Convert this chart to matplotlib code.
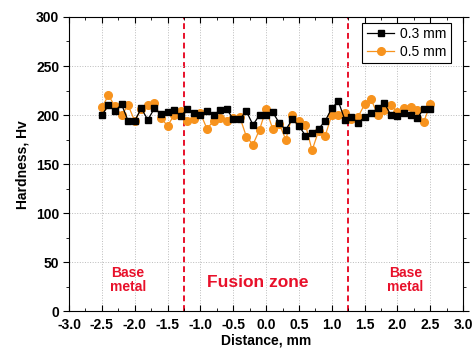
import matplotlib
matplotlib.use('Agg')
import matplotlib.pyplot as plt
import numpy as np

plt.rcParams['font.family'] = ['Liberation Sans', 'DejaVu Sans']

# distance positions (mm)
distance = [-2.5, -2.4, -2.3, -2.2, -2.1, -2.0, -1.9, -1.8, -1.7, -1.6, -1.5,
            -1.4, -1.3, -1.2, -1.1, -1.0, -0.9, -0.8, -0.7, -0.6, -0.5,
            -0.4, -0.3, -0.2, -0.1, 0.0, 0.1, 0.2, 0.3, 0.4, 0.5,
            0.6, 0.7, 0.8, 0.9, 1.0, 1.1, 1.2, 1.3, 1.4, 1.5,
            1.6, 1.7, 1.8, 1.9, 2.0, 2.1, 2.2, 2.3, 2.4, 2.5]

hv_03 = [200, 210, 204, 211, 194, 194, 207, 195, 207, 201, 203,
         205, 199, 206, 202, 200, 204, 200, 205, 206, 196,
         196, 204, 190, 200, 200, 203, 192, 185, 196, 189,
         179, 182, 186, 194, 207, 214, 195, 198, 192, 198,
         202, 207, 212, 200, 199, 202, 200, 197, 206, 206]

hv_05 = [208, 220, 209, 200, 210, 194, 206, 210, 212, 197, 189,
         200, 204, 194, 196, 202, 186, 194, 197, 194, 197,
         198, 178, 170, 185, 206, 186, 191, 175, 200, 194,
         190, 164, 184, 179, 200, 200, 202, 196, 198, 211,
         216, 200, 205, 210, 203, 207, 208, 205, 193, 211]

zone_edges = [-1.25, 1.25]

fig = plt.figure(figsize=(4.76, 3.53), dpi=100)
ax = fig.add_axes([0.145, 0.118, 0.828, 0.834])

ax.plot(distance, hv_03, color='black', marker='s', markersize=5, lw=0.9,
        label='0.3 mm', zorder=3)
ax.plot(distance, hv_05, color='#f7931e', marker='o', markersize=5.5, lw=0.9,
        label='0.5 mm', zorder=2)

for xe in zone_edges:
    ax.plot([xe, xe], [0, 300], color='#e8102a', ls=(0, (3, 2)), lw=1.4, zorder=1)

ax.set_xlim(-3.0, 3.0)
ax.set_ylim(0, 300)
ax.set_xticks(np.arange(-3.0, 3.01, 0.5))
ax.set_xticklabels(['%.1f' % v for v in np.arange(-3.0, 3.01, 0.5)])
ax.set_yticks(np.arange(0, 301, 50))
ax.set_xticks(np.arange(-3.0, 3.01, 0.25), minor=True)
ax.set_yticks(np.arange(0, 301, 25), minor=True)
ax.grid(True, which='major', color='#bbbbbb', ls=':', lw=0.7)

ax.tick_params(axis='both', which='both', labelsize=10)
ax.tick_params(axis='x', which='both', direction='in', top=True, pad=5)
ax.tick_params(axis='y', which='both', direction='out', right=True, pad=3)
ax.tick_params(which='major', length=4)
ax.tick_params(which='minor', length=2)
for lbl in ax.get_xticklabels() + ax.get_yticklabels():
    lbl.set_fontweight('bold')

ax.set_xlabel('Distance, mm', fontsize=10, fontweight='bold', labelpad=1)
ax.set_ylabel('Hardness, Hv', fontsize=10, fontweight='bold', labelpad=5)

red = '#e8102a'
ax.text(-2.1, 32, 'Base\nmetal', color=red, fontsize=10, fontweight='bold',
        ha='center', va='center', linespacing=1.0)
ax.text(-0.12, 29, 'Fusion zone', color=red, fontsize=12.5, fontweight='bold',
        ha='center', va='center')
ax.text(2.12, 32, 'Base\nmetal', color=red, fontsize=10, fontweight='bold',
        ha='center', va='center', linespacing=1.0)

leg = ax.legend(loc='upper right', bbox_to_anchor=(0.975, 0.99), fontsize=10,
                frameon=True, fancybox=False, edgecolor='black', framealpha=1,
                borderpad=0.3, handlelength=2.0, handletextpad=0.4,
                labelspacing=0.3, borderaxespad=0.2)
leg.get_frame().set_linewidth(0.8)

fig.savefig('out.png', dpi=100)
